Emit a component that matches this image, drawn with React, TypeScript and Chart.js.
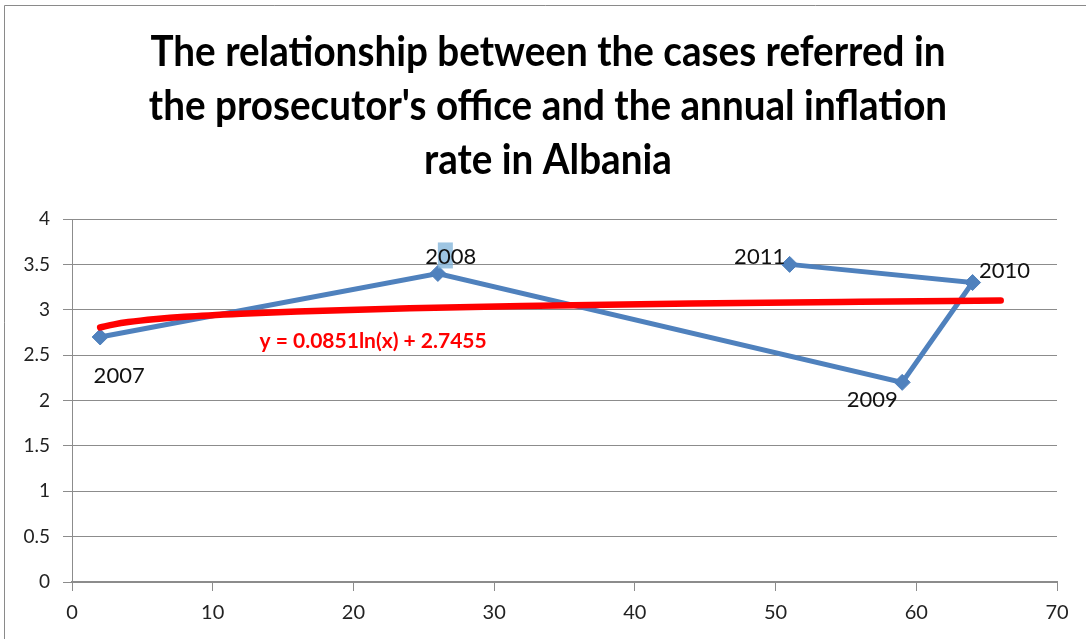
import React, { useEffect, useRef } from "react";
import { Chart, registerables } from "chart.js";

Chart.register(...registerables);

// ---- data ----
const titleLines = [
  "The relationship between the cases referred in",
  "the prosecutor's office and the annual inflation",
  "rate in Albania",
];
const years = ["2007", "2008", "2009", "2010", "2011"];
const casesReferred = [2, 26, 59, 64, 51];
const inflationRate = [2.7, 3.4, 2.2, 3.3, 3.5];
// logarithmic trend line values (y = 0.0851ln(x) + 2.7455)
const trendX = [2, 3, 4, 6, 8, 12, 16, 24, 32, 44, 56, 66];
const trendY = [2.805, 2.839, 2.864, 2.898, 2.923, 2.957, 2.982, 3.016, 3.040, 3.068, 3.088, 3.102];
const trendEquation = "y = 0.0851ln(x) + 2.7455";
const xMin = 0, xMax = 70, xStep = 10;
const yMin = 0, yMax = 4, yStep = 0.5;

// ---- styles ----
const BLUE = "#4F81BD";
const RED = "#FF0000";
const GRID = "#8c8c8c";
const FONT = "Lato, 'Open Sans', 'Noto Sans', sans-serif";
const labelOffsets = [
  [19, 39],
  [13, -17],
  [-30, 18],
  [32, -12],
  [-30, -7],
];

const framePlugin = {
  id: "frame",
  beforeDraw(chart: any) {
    const ctx = chart.ctx;
    ctx.save();
    ctx.fillStyle = "#ffffff";
    ctx.fillRect(0, 0, chart.width, chart.height);
    ctx.strokeStyle = "#8a8a8a";
    ctx.lineWidth = 1;
    ctx.beginPath();
    ctx.moveTo(4.5, chart.height);
    ctx.lineTo(4.5, 5.5);
    ctx.lineTo(chart.width, 5.5);
    ctx.stroke();
    ctx.restore();
  },
};

const titlePlugin = {
  id: "stretchedTitle",
  afterDraw(chart: any) {
    const ctx = chart.ctx;
    ctx.save();
    ctx.font = `bold 40px ${FONT}`;
    const w1 = ctx.measureText(titleLines[0]).width;
    const cap = ctx.measureText("T").actualBoundingBoxAscent || 29;
    const sx = 795 / w1;
    const sy = 30 / cap;
    ctx.fillStyle = "#000000";
    ctx.textAlign = "center";
    ctx.textBaseline = "alphabetic";
    titleLines.forEach((line, i) => {
      ctx.save();
      ctx.translate(548, 66 + i * 54);
      ctx.scale(sx, sy);
      ctx.fillText(line, 0, 0);
      ctx.restore();
    });
    ctx.restore();
  },
};

const labelsPlugin = {
  id: "pointLabels",
  afterDatasetsDraw(chart: any) {
    const ctx = chart.ctx;
    const meta = chart.getDatasetMeta(1);
    ctx.save();
    // selection highlight near the 2008 label
    const p2008 = meta.data[1];
    if (p2008) {
      ctx.fillStyle = "rgba(125,178,216,0.75)";
      ctx.fillRect(p2008.x, p2008.y - 31, 15, 26);
    }
    ctx.font = `22px ${FONT}`;
    ctx.fillStyle = "#111111";
    ctx.textAlign = "center";
    ctx.textBaseline = "middle";
    meta.data.forEach((el: any, i: number) => {
      const [dx, dy] = labelOffsets[i];
      ctx.fillText(years[i], el.x + dx, el.y + dy);
    });
    // trend equation
    const xs = chart.scales.x;
    const ys = chart.scales.y;
    ctx.font = `bold 21px ${FONT}`;
    ctx.fillStyle = RED;
    ctx.fillText(trendEquation, xs.getPixelForValue(21.4), ys.getPixelForValue(2.65));
    ctx.restore();
  },
};

export default function App() {
  const ref = useRef<HTMLCanvasElement | null>(null);
  useEffect(() => {
    if (!ref.current) return;
    const chart = new Chart(ref.current, {
      type: "scatter",
      data: {
        datasets: [
          {
            label: "Log. trend",
            data: trendX.map((x, i) => ({ x, y: trendY[i] })),
            showLine: true,
            borderColor: RED,
            borderWidth: 6.5,
            borderCapStyle: "round",
            cubicInterpolationMode: "monotone",
            pointRadius: 0,
            pointHoverRadius: 0,
          } as any,
          {
            label: "Cases vs inflation",
            data: casesReferred.map((x, i) => ({ x, y: inflationRate[i] })),
            showLine: true,
            borderColor: BLUE,
            borderWidth: 5,
            backgroundColor: BLUE,
            pointStyle: "rectRot",
            pointRadius: 8,
            pointBorderWidth: 1,
            pointBorderColor: BLUE,
            pointBackgroundColor: BLUE,
            tension: 0,
          } as any,
        ],
      },
      options: {
        animation: false,
        responsive: false,
        devicePixelRatio: 1,
        layout: { padding: { top: 219, right: 29, bottom: 0, left: 0 } },
        plugins: {
          legend: { display: false },
          title: { display: false },
          tooltip: { enabled: false },
        },
        scales: {
          x: {
            type: "linear",
            min: xMin,
            max: xMax,
            afterFit: (s: any) => { s.height = 57; },
            ticks: {
              stepSize: xStep,
              color: "#222222",
              font: { family: FONT, size: 20 },
              padding: 10,
              callback: (v: any) => String(Number(v)),
            },
            grid: {
              drawOnChartArea: false,
              drawTicks: true,
              tickLength: 9,
              color: GRID,
              lineWidth: 1,
            },
            border: { display: true, color: GRID, width: 2 },
          },
          y: {
            type: "linear",
            min: yMin,
            max: yMax,
            afterFit: (s: any) => { s.width = 72; },
            ticks: {
              stepSize: yStep,
              color: "#222222",
              font: { family: FONT, size: 19 },
              padding: 13,
              callback: (v: any) => String(Number(v)),
            },
            grid: {
              drawTicks: true,
              tickLength: 9,
              color: GRID,
              lineWidth: 1,
            },
            border: { display: true, color: GRID, width: 1 },
          },
        },
      } as any,
      plugins: [framePlugin, titlePlugin, labelsPlugin],
    });
    return () => chart.destroy();
  }, []);
  return (
    <div style={{ position: "absolute", left: 0, top: 0, width: 1086, height: 639 }}>
      <canvas ref={ref} width={1086} height={639} style={{ display: "block" }} />
    </div>
  );
}
